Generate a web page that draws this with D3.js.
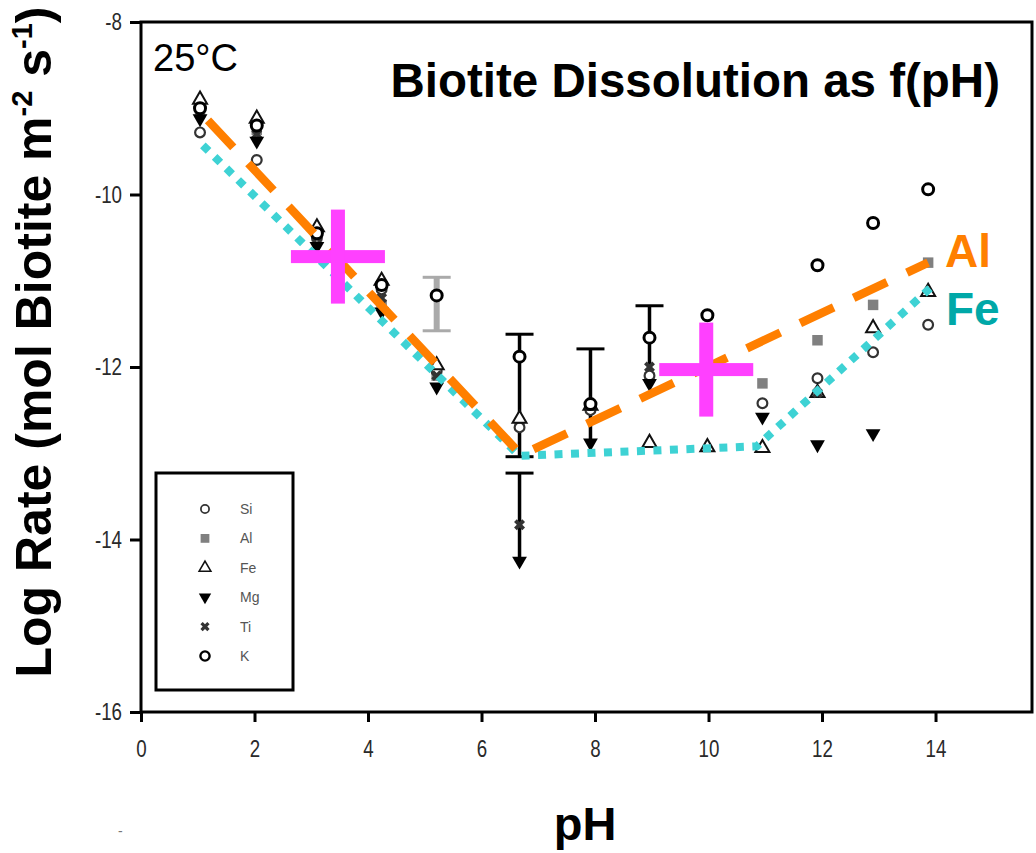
<!DOCTYPE html>
<html>
<head>
<meta charset="utf-8">
<script src="https://cdn.jsdelivr.net/npm/d3@7"></script>
<style>
  body { margin: 0; background: #fff; }
  svg { display: block; font-family: "Liberation Sans", Arial, sans-serif; }
</style>
</head>
<body>
<div id="chart"></div>
<script>
// pH of each measurement group
var phGroups = [1.04, 2.04, 3.1, 4.24, 5.21, 6.67, 7.92, 8.96, 9.98, 10.95, 11.92, 12.9, 13.87];
// log rates per element (null = not shown)
var siRates = [-9.28, -9.6, -10.5, -11.1, -12.05, -12.7, -12.5, -12.1, null, -12.42, -12.13, -11.83, -11.51];
var alRates = [-9.05, -9.25, -10.5, -11.28, -12.1, -12.65, -12.45, -12.12, -11.83, -12.19, -11.69, -11.28, -10.79];
var feRates = [-8.9, -9.12, -10.38, -11.0, -11.98, -12.6, -12.45, -12.88, -12.93, -12.94, -12.3, -11.55, -11.13];
var mgRates = [-9.12, -9.38, -10.6, -11.36, -12.23, -14.25, -12.88, -12.19, null, -12.58, -12.9, -12.77, null];
var tiRates = [-9.0, -9.3, -10.5, -11.2, -12.1, -13.83, -12.45, -12.0, null, null, -12.3, null, null];
var kRates = [-9.0, -9.2, -10.45, -11.05, -11.17, -11.88, -12.43, -11.66, -11.4, null, -10.82, -10.33, -9.94];

// error bars: pH, low, high, caps, colour
var errPH = [5.21, 6.67, 6.67, 7.92, 8.96];
var errLo = [-11.58, -13.04, -14.3, -12.88, -12.1];
var errHi = [-10.96, -11.62, -13.23, -11.79, -11.29];
var errCapLo = [true, true, false, false, false];
var errCapHi = [true, true, true, true, true];
var errGray = [true, false, false, false, false];

// fitted trend lines
var alLinePH = [1.18, 6.7, 13.87];
var alLineRate = [-9.14, -13.02, -10.79];
var feLinePH = [1.09, 6.67, 10.85, 13.93];
var feLineRate = [-9.43, -13.03, -12.92, -11.07];

// magenta crosses
var crossPH = [3.47, 9.96];
var crossRate = [-10.72, -12.03];

var xTicks = [0, 2, 4, 6, 8, 10, 12, 14];
var yTicks = [-8, -10, -12, -14, -16];
var legendNames = ["Si", "Al", "Fe", "Mg", "Ti", "K"];

var W = 1036, H = 853;
var svg = d3.select("#chart").append("svg").attr("width", W).attr("height", H);

var x = d3.scaleLinear().domain([0, 15.7]).range([141, 1032]);
var y = d3.scaleLinear().domain([-16, -8]).range([712, 22]);

// axes
var yAxis = svg.append("g")
  .attr("transform", "translate(141,0)")
  .call(d3.axisLeft(y).tickValues(yTicks).tickSize(11).tickPadding(8).tickFormat(function(d) { return String(d); }));
var xAxis = svg.append("g")
  .attr("transform", "translate(0,712)")
  .call(d3.axisBottom(x).tickValues(xTicks).tickSize(10).tickPadding(18).tickFormat(function(d) { return String(d); }));

[yAxis, xAxis].forEach(function(a) {
  a.select(".domain").remove();
  a.selectAll(".tick line").attr("stroke", "#000").attr("stroke-width", 3);
  a.selectAll(".tick text")
    .attr("font-size", 24)
    .attr("font-family", "Liberation Sans, Arial, sans-serif")
    .attr("fill", "#2a2a2a");
});
yAxis.selectAll(".tick text").attr("transform", "scale(0.78,1)").attr("x", -19 / 0.78);
xAxis.selectAll(".tick text").attr("transform", "scale(0.78,1)");

// frame
svg.append("rect")
  .attr("x", x(0)).attr("y", y(-8))
  .attr("width", x(15.7) - x(0)).attr("height", y(-16) - y(-8))
  .attr("fill", "none").attr("stroke", "#000").attr("stroke-width", 3);

// error bars
var capW = 14;
errPH.forEach(function(p, i) {
  var c = errGray[i] ? "#aaaaaa" : "#000";
  var sw = errGray[i] ? 6 : 3.5;
  var g = svg.append("g").attr("stroke", c);
  g.append("line").attr("x1", x(p)).attr("x2", x(p))
    .attr("y1", y(errLo[i])).attr("y2", y(errHi[i])).attr("stroke-width", sw);
  if (errCapHi[i]) g.append("line").attr("x1", x(p) - capW).attr("x2", x(p) + capW)
    .attr("y1", y(errHi[i])).attr("y2", y(errHi[i])).attr("stroke-width", 3);
  if (errCapLo[i]) g.append("line").attr("x1", x(p) - capW).attr("x2", x(p) + capW)
    .attr("y1", y(errLo[i])).attr("y2", y(errLo[i])).attr("stroke-width", 3);
});

// marker styles
var markerStyle = {
  Al: { type: d3.symbolSquare, size: 110, fill: "#808080", stroke: "none", sw: 0, rot: 0 },
  Si: { type: d3.symbolCircle, size: 75, fill: "#fff", stroke: "#333", sw: 2.2, rot: 0 },
  Fe: { type: d3.symbolTriangle, size: 85, fill: "#fff", stroke: "#111", sw: 2, rot: 0 },
  Ti: { type: d3.symbolCross, size: 75, fill: "#333", stroke: "none", sw: 0, rot: 45 },
  Mg: { type: d3.symbolTriangle, size: 95, fill: "#000", stroke: "none", sw: 0, rot: 180 },
  K: { type: d3.symbolCircle, size: 95, fill: "#fff", stroke: "#000", sw: 3, rot: 0 }
};
var seriesRates = { Si: siRates, Al: alRates, Fe: feRates, Mg: mgRates, Ti: tiRates, K: kRates };

function drawMarker(g, name, cx, cy, scale) {
  var s = markerStyle[name];
  g.append("path")
    .attr("d", d3.symbol().type(s.type).size(s.size * (scale || 1))())
    .attr("transform", "translate(" + cx + "," + cy + ") rotate(" + s.rot + ")")
    .attr("fill", s.fill)
    .attr("stroke", s.stroke)
    .attr("stroke-width", s.sw * (scale ? 0.8 : 1));
}

var markers = svg.append("g");
["Al", "Si", "Fe", "Ti", "Mg", "K"].forEach(function(name) {
  seriesRates[name].forEach(function(v, i) {
    if (v === null) return;
    drawMarker(markers, name, x(phGroups[i]), y(v));
  });
});

// trend lines
var line = d3.line().x(function(d) { return x(d[0]); }).y(function(d) { return y(d[1]); });
svg.append("path")
  .attr("d", line(feLinePH.map(function(p, i) { return [p, feLineRate[i]]; })))
  .attr("fill", "none").attr("stroke", "#3ed2d4").attr("stroke-width", 8)
  .attr("stroke-dasharray", "8 8.5");
svg.append("path")
  .attr("d", line(alLinePH.map(function(p, i) { return [p, alLineRate[i]]; })))
  .attr("fill", "none").attr("stroke", "#ff7f00").attr("stroke-width", 8.5)
  .attr("stroke-dasharray", "37 22");

// crosses
var armW = 47, armT = 13;
crossPH.forEach(function(p, i) {
  var cx = x(p), cy = y(crossRate[i]);
  svg.append("rect").attr("x", cx - armW).attr("y", cy - armT / 2)
    .attr("width", armW * 2).attr("height", armT).attr("fill", "#ff40ff");
  svg.append("rect").attr("x", cx - armT / 2 - 0.5).attr("y", cy - armW)
    .attr("width", armT + 1).attr("height", armW * 2).attr("fill", "#ff40ff");
});

// legend
var lg = svg.append("g");
lg.append("rect").attr("x", 156).attr("y", 473).attr("width", 137).attr("height", 217)
  .attr("fill", "#fff").attr("stroke", "#000").attr("stroke-width", 3);
legendNames.forEach(function(name, i) {
  var ly = 509 + i * 29.4;
  drawMarker(lg, name, 205, ly, 0.7);
  lg.append("text").attr("x", 240).attr("y", ly + 5)
    .attr("font-size", 14).attr("fill", "#555").text(name);
});

// texts
svg.append("text").attr("x", 153).attr("y", 71)
  .attr("font-size", 38).attr("fill", "#000").text("25°C");
svg.append("text").attr("x", 1000).attr("y", 97).attr("text-anchor", "end")
  .attr("font-size", 47.5).attr("font-weight", "bold").attr("fill", "#000")
  .text("Biotite Dissolution as f(pH)");
svg.append("text").attr("x", 945).attr("y", 267)
  .attr("font-size", 46).attr("font-weight", "bold").attr("fill", "#ff7f00").text("Al");
svg.append("text").attr("x", 946).attr("y", 325)
  .attr("font-size", 46).attr("font-weight", "bold").attr("fill", "#00a8a8").text("Fe");
svg.append("text").attr("x", 585).attr("y", 840).attr("text-anchor", "middle")
  .attr("font-size", 47).attr("font-weight", "bold").attr("fill", "#000").text("pH");
svg.append("text").attr("x", 118).attr("y", 836)
  .attr("font-size", 14).attr("fill", "#777").text("-");

var yl = svg.append("text")
  .attr("transform", "translate(51,342) rotate(-90)")
  .attr("text-anchor", "middle")
  .attr("font-size", 50).attr("font-weight", "bold").attr("fill", "#000");
yl.append("tspan").text("Log Rate (mol Biotite m");
yl.append("tspan").attr("font-size", 29).attr("dy", -19).text("-2");
yl.append("tspan").attr("dy", 19).text(" s");
yl.append("tspan").attr("font-size", 29).attr("dy", -19).text("-1");
yl.append("tspan").attr("dy", 19).text(")");
</script>
</body>
</html>
